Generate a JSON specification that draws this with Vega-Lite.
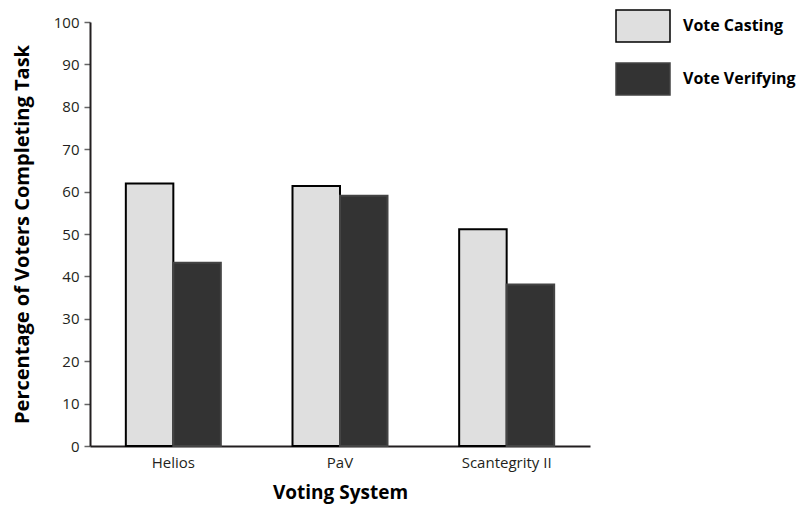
{
  "$schema": "https://vega.github.io/schema/vega-lite/v6.json",
  "autosize": "none",
  "width": 500,
  "height": 424,
  "padding": {"left": 90, "top": 22, "right": 209, "bottom": 62},
  "background": "white",
  "config": {"view": {"stroke": null}, "font": "Open Sans"},
  "data": {"values": [
    {"system": "Helios", "task": "Vote Casting", "pct": 61.9},
    {"system": "Helios", "task": "Vote Verifying", "pct": 43.2},
    {"system": "PaV", "task": "Vote Casting", "pct": 61.3},
    {"system": "PaV", "task": "Vote Verifying", "pct": 59.0},
    {"system": "Scantegrity II", "task": "Vote Casting", "pct": 51.1},
    {"system": "Scantegrity II", "task": "Vote Verifying", "pct": 38.1}
  ]},
  "mark": {"type": "bar", "strokeWidth": 2},
  "encoding": {
    "x": {"field": "system", "type": "nominal", "sort": null,
      "scale": {"paddingInner": 0.43, "paddingOuter": 0.215},
      "axis": {"title": "Voting System", "labelAngle": 0, "ticks": false, "domainColor": "#231F20", "domainWidth": 2,
        "labelFontSize": 15, "labelColor": "#231F20", "labelPadding": 9,
        "titleFontSize": 19, "titleFontWeight": "bold", "titleColor": "#000", "titlePadding": 13}},
    "xOffset": {"field": "task", "type": "nominal", "scale": {"paddingInner": 0, "paddingOuter": 0}},
    "y": {"field": "pct", "type": "quantitative", "scale": {"domain": [0, 100], "nice": false},
      "axis": {"title": "Percentage of Voters Completing Task", "values": [0,10,20,30,40,50,60,70,80,90,100], "grid": false,
        "domainColor": "#231F20", "domainWidth": 2, "tickColor": "#666", "tickSize": 6, "tickWidth": 1.5,
        "labelFontSize": 15, "labelColor": "#231F20", "labelPadding": 5,
        "titleFontSize": 20, "titleFontWeight": "bold", "titleColor": "#000", "titlePadding": 21}},
    "color": {"field": "task", "type": "nominal",
      "scale": {"domain": ["Vote Casting", "Vote Verifying"], "range": ["#DFDFDF", "#333333"]},
      "legend": {"title": null, "orient": "none", "legendX": 525, "legendY": -24,
        "symbolType": "M-1,-0.593L1,-0.593L1,0.593L-1,0.593Z", "symbolSize": 2916,
        "symbolStrokeWidth": 1.5, "symbolStrokeColor": "#333",
        "labelFontSize": 16, "labelFontWeight": "bold", "labelColor": "#000", "labelOffset": 12,
        "rowPadding": 5, "symbolOpacity": 1}},
    "stroke": {"field": "task", "type": "nominal",
      "scale": {"domain": ["Vote Casting", "Vote Verifying"], "range": ["#000000", "#444444"]}, "legend": null}
  }
}
